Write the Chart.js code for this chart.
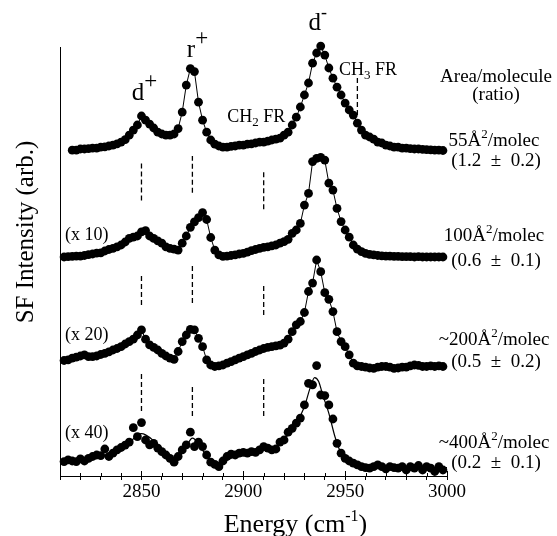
<!DOCTYPE html>
<html>
<head>
<meta charset="utf-8">
<script src="https://cdn.jsdelivr.net/npm/chart.js@4/dist/chart.umd.min.js"></script>
<style>
  html, body { margin: 0; padding: 0; background: #fff; }
</style>
</head>
<body>
<canvas id="sfgChart" width="557" height="536"></canvas>
<script>
// energy grid of the measured spectra (cm-1)
const energy = [2812,
  2814, 2816, 2818, 2820, 2822, 2824, 2826, 2828, 2830, 2832,
  2834, 2836, 2838, 2840, 2842, 2844, 2846, 2848, 2850, 2852,
  2854, 2856, 2858, 2860, 2862, 2864, 2866, 2868, 2870, 2872,
  2874, 2876, 2878, 2880, 2882, 2884, 2886, 2888, 2890, 2892,
  2894, 2896, 2898, 2900, 2902, 2904, 2906, 2908, 2910, 2912,
  2914, 2916, 2918, 2920, 2922, 2924, 2926, 2928, 2930, 2932,
  2934, 2936, 2938, 2940, 2942, 2944, 2946, 2948, 2950, 2952,
  2954, 2956, 2958, 2960, 2962, 2964, 2966, 2968, 2970, 2972,
  2974, 2976, 2978, 2980, 2982, 2984, 2986, 2988, 2990, 2992,
  2994, 2996, 2998];

// SF intensity above each trace's own baseline (arb.)
const trace55 = [null,
  null, 0.3, 0.3, 0.7, 0.7, 0.8, 1.0, 1.0, 1.3, 1.4,
  1.7, 2.0, 2.4, 3.0, 3.8, 5.3, 7.0, 8.7, 11.7, 10.3,
  9.0, 7.7, 6.3, 5.7, 5.3, 5.3, 5.7, 7.5, 13.0, 22.0,
  27.5, 26.5, 16.3, 10.3, 6.3, 3.7, 2.3, 1.7, 1.3, 1.3,
  1.6, 1.7, 2.0, 2.0, 2.3, 2.4, 2.7, 3.0, 3.0, 3.3,
  3.7, 4.0, 4.3, 5.3, 6.3, 8.7, 11.3, 14.7, 18.7, 22.7,
  29.3, 32.7, 35.0, 32.0, 27.7, 24.3, 21.3, 18.7, 16.0, 13.7,
  12.0, 9.3, 7.0, 5.3, 4.7, 4.0, 3.0, 2.7, 2.0, 1.7,
  1.3, 1.3, 1.0, 1.0, 0.8, 0.7, 0.7, 0.6, 0.5, 0.4,
  0.3, 0.3, 0.2];

const trace100 = [0.0,
  0.1, 0.2, 0.3, 0.3, 0.5, 0.8, 1.0, 1.3, 1.4, 2.0,
  2.5, 2.9, 3.4, 4.0, 5.0, 6.2, 6.6, 7.0, 8.4, 8.8,
  7.0, 6.2, 5.4, 4.6, 3.4, 2.9, 2.6, 2.3, 4.6, 7.0,
  9.9, 11.7, 13.1, 14.8, 12.5, 6.5, 2.3, 0.7, 0.2, 0.3,
  0.5, 0.7, 1.0, 1.2, 1.6, 2.1, 2.5, 2.9, 3.2, 3.4,
  3.7, 4.0, 4.6, 5.1, 5.9, 7.9, 9.0, 11.2, 17.3, 21.2,
  31.8, 32.9, 33.2, 32.3, 24.6, 22.3, 16.2, 11.8, 9.0, 6.6,
  4.0, 2.6, 1.8, 1.2, 0.9, 0.7, 0.5, 0.4, 0.3, 0.3,
  0.2, 0.2, 0.1, 0.1, 0.1, 0.0, 0.1, 0.0, 0.0, 0.0,
  0.0, 0.0, 0.0];

const trace200 = [1.8,
  2.0, 2.6, 2.9, 3.3, 3.7, 3.1, 3.1, 3.3, 3.8, 4.2,
  4.7, 5.3, 5.8, 6.4, 7.3, 8.1, 8.9, 10.3, 12.0, 8.9,
  7.0, 6.2, 5.3, 4.2, 3.3, 2.6, 2.2, 4.8, 8.1, 10.3,
  12.2, 12.0, 9.2, 6.4, 2.0, 0.3, -0.2, 0.0, 0.3, 0.9,
  1.4, 2.0, 2.6, 3.1, 3.7, 4.2, 4.8, 5.3, 5.8, 6.2,
  6.4, 6.7, 6.9, 7.6, 8.9, 11.4, 13.7, 14.8, 17.8, 24.8,
  27.6, 35.3, 31.4, 24.4, 22.2, 18.1, 11.4, 8.1, 6.4, 3.7,
  0.9, 0.0, -0.2, -0.4, -0.7, -0.8, -0.4, -0.2, -0.2, -0.4,
  -0.8, -0.7, -0.4, -0.4, 0.0, 0.3, 0.2, -0.2, -0.2, 0.0,
  -0.2, 0.0, -0.2];

const trace400 = [2.1,
  2.7, 2.3, 2.1, 3.0, 2.3, 3.2, 3.8, 4.3, 4.1, 6.3,
  3.8, 4.9, 6.0, 6.8, 7.6, 8.6, 13.4, 10.4, 15.1, 9.3,
  7.7, 8.2, 6.6, 5.4, 4.3, 3.2, 1.9, 3.8, 6.0, 7.7,
  11.9, 7.1, 8.6, 7.1, 4.3, 1.9, 1.2, 0.4, 2.3, 3.8,
  4.6, 4.3, 4.9, 5.2, 4.9, 5.4, 5.2, 6.0, 7.1, 6.6,
  6.0, 6.3, 8.6, 9.3, 11.9, 13.2, 14.9, 16.6, 21.0, 28.2,
  27.7, 34.1, 24.3, 24.1, 21.0, 16.3, 8.2, 4.9, 3.2, 2.3,
  1.6, 1.0, 0.4, 0.1, -0.1, 0.4, 1.0, 0.4, -0.3, 0.4,
  0.1, -0.1, 0.4, -0.7, 0.4, -0.1, 0.8, -0.7, 0.4, -0.1,
  -1.2, 0.4, -0.7];

// fitted curve drawn through the ~400 A2/molec points
const fitEnergy400 = [2812, 2820, 2828, 2836, 2840, 2844, 2848, 2850, 2852, 2856,
  2860, 2864, 2866, 2868, 2872, 2875, 2878, 2882, 2886, 2890,
  2896, 2902, 2908, 2914, 2918, 2922, 2926, 2930, 2933, 2935,
  2937, 2939, 2942, 2945, 2948, 2952, 2958, 2966, 2980, 3000];
const fit400 = [2.1, 2.7, 3.8, 4.9, 6.0, 8.2, 11.0, 11.4, 11.0, 9.0,
  6.0, 3.4, 2.3, 3.0, 7.1, 9.9, 8.2, 3.8, 1.6, 2.1,
  3.8, 4.9, 5.7, 6.6, 8.2, 11.0, 14.9, 20.4, 27.1, 30.1,
  28.8, 24.3, 18.2, 10.4, 4.9, 1.9, 0.8, 0.3, 0.1, 0.1];

// vertical stacking offsets of the four spectra
const traces = [trace55, trace100, trace200, trace400];
const offsets = [108.3, 73.0, 36.7, 2.7];
const multipliers = ['', '(x 10)', '(x 20)', '(x 40)'];
const areaLabels = ['55Å', '100Å', '~200Å', '~400Å'];
const ratioLabels = ['(1.2 ± 0.2)', '(0.6 ± 0.1)', '(0.5 ± 0.2)', '(0.2 ± 0.1)'];

// dashed markers for d+, r+ and CH2 FR between the spectra
const frEnergy = [2850, 2875, 2910];
const frTop = [[104.4, 106.7, 101.4], [67.7, 70.0, 63.7], [34.7, 30.7, 33.0]];
const frBottom = [[91.8, 94.4, 88.9], [57.0, 57.7, 53.7], [21.7, 20.0, 20.0]];
const ch3Energy = 2956;
const ch3Span = [120.3, 133.7];

const SERIF = '"Liberation Serif", "Times New Roman", serif';

const datasets = [];
traces.forEach((tr, i) => {
  datasets.push({
    data: energy.map((e, k) => ({ x: e, y: tr[k] === null ? null : tr[k] + offsets[i] })),
    showLine: i < 3,
    borderColor: '#000',
    borderWidth: 1,
    pointRadius: 4.4,
    pointBackgroundColor: '#000',
    pointBorderWidth: 0,
    clip: false
  });
});
datasets.push({
  data: fitEnergy400.map((e, k) => ({ x: e, y: fit400[k] + offsets[3] })),
  showLine: true,
  borderColor: '#000',
  borderWidth: 1.2,
  pointRadius: 0,
  cubicInterpolationMode: 'monotone'
});
frEnergy.forEach((e, j) => {
  frTop.forEach((tops, g) => {
    datasets.push({
      data: [{ x: e, y: frBottom[g][j] }, { x: e, y: tops[j] }],
      showLine: true, borderColor: '#000', borderWidth: 1.3,
      borderDash: [5, 3], pointRadius: 0
    });
  });
});
datasets.push({
  data: [{ x: ch3Energy, y: ch3Span[0] }, { x: ch3Energy, y: ch3Span[1] }],
  showLine: true, borderColor: '#000', borderWidth: 1.3,
  borderDash: [5, 3], pointRadius: 0
});

// text with super/subscripts: parts = [text, size, dy]
function drawRich(ctx, parts, x, y, align) {
  let w = 0;
  parts.forEach(p => { ctx.font = p[1] + 'px ' + SERIF; w += ctx.measureText(p[0]).width; });
  let cx = align === 'center' ? x - w / 2 : x;
  ctx.textAlign = 'left';
  ctx.textBaseline = 'alphabetic';
  parts.forEach(p => {
    ctx.font = p[1] + 'px ' + SERIF;
    ctx.fillText(p[0], cx, y + p[2]);
    cx += ctx.measureText(p[0]).width;
  });
}

const textPlugin = {
  id: 'sfgText',
  afterDraw(chart) {
    const { ctx, chartArea } = chart;
    const xs = chart.scales.x, ys = chart.scales.y;
    ctx.save();
    ctx.fillStyle = '#000';
    ctx.strokeStyle = '#000';
    ctx.lineWidth = 1;

    // inner tick marks
    xs.ticks.forEach(t => {
      const px = Math.round(xs.getPixelForValue(t.value)) + 0.5;
      const len = t.value % 50 === 0 ? 5 : 3;
      ctx.beginPath();
      ctx.moveTo(px, chartArea.bottom);
      ctx.lineTo(px, chartArea.bottom - len);
      ctx.stroke();
    });

    // peak labels
    drawRich(ctx, [['d', 25, 0], ['+', 23, -12]], xs.getPixelForValue(2851.5), ys.getPixelForValue(125.3), 'center');
    drawRich(ctx, [['r', 25, 0], ['+', 23, -12]], xs.getPixelForValue(2877.5), ys.getPixelForValue(139.7), 'center');
    drawRich(ctx, [['d', 25, 0], ['-', 18, -12]], xs.getPixelForValue(2936.5), ys.getPixelForValue(148.7), 'center');
    drawRich(ctx, [['CH', 18, 0], ['2', 13, 4], [' FR', 18, 0]], xs.getPixelForValue(2906.4), ys.getPixelForValue(118), 'center');
    drawRich(ctx, [['CH', 18, 0], ['3', 13, 4], [' FR', 18, 0]], xs.getPixelForValue(2961.2), ys.getPixelForValue(133.7), 'center');

    // multipliers at the left
    const multY = [0, 78.7, 45.3, 12.7];
    multipliers.forEach((m, i) => {
      if (m) drawRich(ctx, [[m, 18, 0]], xs.getPixelForValue(2812.5), ys.getPixelForValue(multY[i]), 'left');
    });

    // right hand labels
    const rx = chartArea.right + 47;
    drawRich(ctx, [['Area/molecule', 19, 0]], rx + 2, ys.getPixelForValue(131.3), 'center');
    drawRich(ctx, [['(ratio)', 19, 0]], rx + 2, ys.getPixelForValue(125.3), 'center');
    const areaY = [110, 78.3, 43.7, 9.3];
    const ratioY = [103.3, 70, 36.3, 2.7];
    areaLabels.forEach((a, i) => {
      drawRich(ctx, [[a, 19, 0], ['2', 13, -8], ['/molec', 19, 0]], rx, ys.getPixelForValue(areaY[i]), 'center');
      drawRich(ctx, [[ratioLabels[i].replace(' ± ', '  ±  '), 19, 0]], rx + 2, ys.getPixelForValue(ratioY[i]), 'center');
    });

    // axis titles
    drawRich(ctx, [['Energy (cm', 26, 0], ['-1', 16, -11], [')', 26, 0]],
      (chartArea.left + chartArea.right) / 2 + 42, chartArea.bottom + 56, 'center');
    ctx.translate(26, 232);
    ctx.rotate(-Math.PI / 2);
    ctx.font = '25px ' + SERIF;
    ctx.textAlign = 'center';
    ctx.textBaseline = 'middle';
    ctx.fillText('SF Intensity (arb.)', 0, 0);
    ctx.restore();
  }
};

new Chart(document.getElementById('sfgChart').getContext('2d'), {
  type: 'scatter',
  data: { datasets: datasets },
  options: {
    responsive: false,
    animation: false,
    layout: { padding: { top: 47, right: 110, bottom: 0, left: 0 } },
    scales: {
      x: {
        type: 'linear',
        min: 2810,
        max: 3000,
        afterFit: s => { s.height = 60; },
        ticks: {
          stepSize: 10,
          autoSkip: false,
          maxRotation: 0,
          padding: 1,
          color: '#000',
          font: { family: SERIF, size: 19 },
          callback: v => (v % 50 === 0 ? String(v) : '')
        },
        grid: { drawOnChartArea: false, drawTicks: true, tickLength: 4, color: '#000' },
        border: { display: true, color: '#000', width: 1 }
      },
      y: {
        min: 0,
        max: 143,
        afterFit: s => { s.width = 60; },
        ticks: { display: false },
        grid: { drawOnChartArea: false, drawTicks: false },
        border: { display: true, color: '#000', width: 1 }
      }
    },
    plugins: {
      legend: { display: false },
      tooltip: { enabled: false }
    }
  },
  plugins: [textPlugin]
});
</script>
</body>
</html>
